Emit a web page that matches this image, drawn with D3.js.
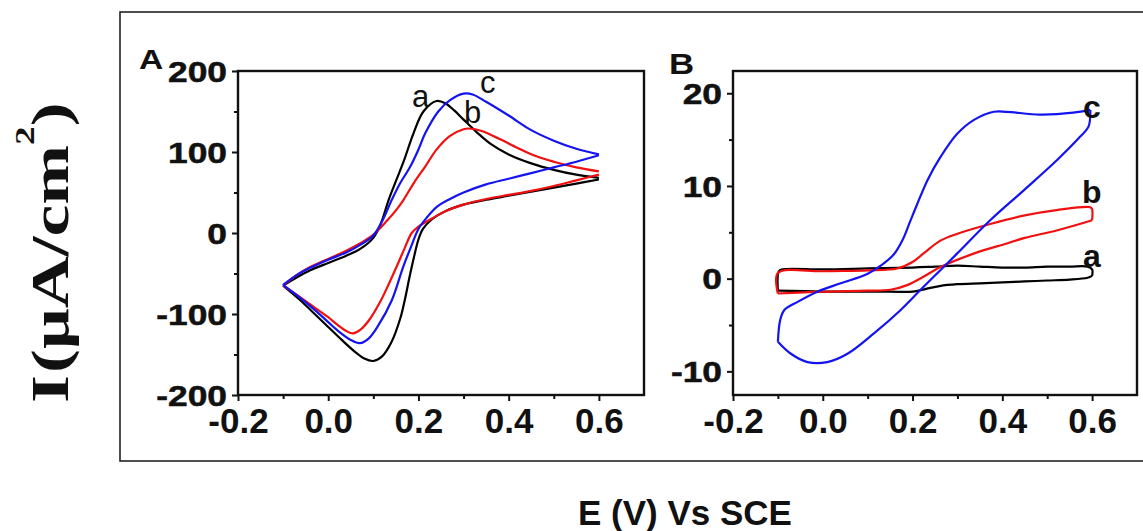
<!DOCTYPE html>
<html>
<head>
<meta charset="utf-8">
<script src="https://cdn.jsdelivr.net/npm/d3@7"></script>
<style>
  html, body { margin: 0; padding: 0; background: #fff; }
  svg { display: block; }
</style>
</head>
<body>
<svg id="fig" width="1143" height="531"></svg>
<script>
// ---- Cyclic voltammograms: [E (V vs SCE), I (uA/cm2)] ----
// Panel A, forward (anodic) and reverse (cathodic) sweeps
const A_a_forward = [[-0.1,-65],[-0.07,-55],[-0.04,-46],[0.0,-37],[0.04,-28],[0.07,-20],[0.1,-6],[0.117,12],[0.134,41],[0.15,64],[0.167,88],[0.189,123],[0.211,150],[0.24,163],[0.26,160],[0.28,151],[0.3,140],[0.33,124],[0.36,110],[0.4,97],[0.45,86],[0.5,78],[0.55,72],[0.6,68]];
const A_a_reverse = [[0.6,66],[0.55,61],[0.5,56],[0.45,51],[0.4,46],[0.35,41],[0.3,35],[0.26,27],[0.23,17],[0.21,5],[0.2,-8],[0.19,-30],[0.18,-55],[0.17,-82],[0.16,-105],[0.14,-135],[0.12,-152],[0.1,-158],[0.08,-155],[0.06,-147],[0.03,-132],[0.0,-116],[-0.03,-100],[-0.06,-84],[-0.1,-65]];
const A_b_forward = [[-0.1,-65],[-0.07,-52],[-0.04,-42],[0.0,-32],[0.04,-22],[0.07,-13],[0.1,-2],[0.13,15],[0.15,28],[0.167,41],[0.19,62],[0.215,82],[0.24,103],[0.27,120],[0.3,128],[0.31,129],[0.34,126],[0.38,116],[0.42,105],[0.46,95],[0.5,88],[0.55,81],[0.6,76]];
const A_b_reverse = [[0.6,72],[0.55,65],[0.5,58],[0.45,52],[0.4,47],[0.35,42],[0.3,35],[0.26,27],[0.23,18],[0.2,8],[0.185,0],[0.17,-18],[0.152,-41],[0.135,-62],[0.117,-83],[0.09,-108],[0.07,-120],[0.055,-124],[0.04,-121],[0.02,-113],[0.0,-104],[-0.03,-92],[-0.06,-80],[-0.1,-65]];
const A_c_forward = [[-0.1,-64],[-0.07,-52],[-0.04,-43],[0.0,-33],[0.04,-24],[0.07,-15],[0.1,-3],[0.12,15],[0.141,41],[0.16,62],[0.182,82],[0.2,103],[0.215,123],[0.244,150],[0.27,164],[0.3,172],[0.32,171],[0.35,162],[0.4,145],[0.45,127],[0.5,114],[0.55,104],[0.6,97]];
const A_c_reverse = [[0.6,96],[0.55,88],[0.5,81],[0.45,74],[0.4,67],[0.35,60],[0.3,50],[0.27,42],[0.24,32],[0.22,20],[0.2,5],[0.185,-15],[0.166,-42],[0.141,-83],[0.11,-115],[0.09,-130],[0.07,-136],[0.05,-132],[0.02,-120],[0.0,-110],[-0.03,-95],[-0.06,-81],[-0.1,-64]];

// Panel B
const B_a_forward = [[-0.1,-1.3],[-0.098,0.8],[-0.09,1.0],[0.0,1.0],[0.1,1.1],[0.2,1.2],[0.25,1.3],[0.3,1.4],[0.35,1.3],[0.4,1.2],[0.45,1.2],[0.5,1.3],[0.55,1.3],[0.59,1.3],[0.6,1.0],[0.6,0.3]];
const B_a_reverse = [[0.6,0.3],[0.59,0.1],[0.55,-0.1],[0.5,-0.2],[0.45,-0.3],[0.4,-0.4],[0.35,-0.5],[0.3,-0.6],[0.26,-0.8],[0.23,-1.1],[0.2,-1.4],[0.15,-1.4],[0.1,-1.4],[0.0,-1.4],[-0.1,-1.3]];
const B_b_forward = [[-0.1,-1.6],[-0.1,0.6],[0.0,0.8],[0.1,0.9],[0.166,1.1],[0.2,1.8],[0.224,2.7],[0.262,4.1],[0.3,4.85],[0.373,5.9],[0.447,6.8],[0.521,7.4],[0.596,7.7],[0.6,7.5],[0.6,6.3]];
const B_b_reverse = [[0.6,6.3],[0.58,6.0],[0.521,5.2],[0.45,4.4],[0.41,3.8],[0.336,2.7],[0.262,1.25],[0.224,0.2],[0.188,-0.7],[0.151,-1.2],[0.1,-1.3],[0.0,-1.4],[-0.1,-1.6]];
const B_c_forward = [[-0.1,-6.8],[-0.095,-4.5],[-0.086,-3.4],[-0.056,-2.5],[-0.012,-1.4],[0.04,-0.5],[0.099,0.5],[0.129,1.4],[0.158,2.6],[0.178,4.2],[0.194,6.1],[0.21,8.0],[0.233,10.6],[0.262,13.1],[0.299,15.6],[0.336,17.1],[0.381,18.0],[0.41,18.0],[0.484,17.7],[0.558,17.9],[0.596,18.2]];
const B_c_reverse = [[0.596,18.2],[0.592,16.4],[0.573,15.3],[0.522,12.8],[0.447,9.5],[0.373,6.3],[0.299,2.7],[0.224,-0.9],[0.173,-3.4],[0.114,-5.9],[0.055,-8.1],[0.01,-9.0],[-0.034,-9.0],[-0.071,-8.1],[-0.1,-6.8]];

// Axis ticks
const xMajorTicks = [-0.2, 0.0, 0.2, 0.4, 0.6];
const xMinorTicks = [-0.1, 0.1, 0.3, 0.5];
const yMajorTicksA = [-200, -100, 0, 100, 200];
const yMinorTicksA = [-150, -50, 50, 150];
const yMajorTicksB = [-10, 0, 10, 20];
const yMinorTicksB = [-5, 5, 15];

const seriesColors = { a: "#000000", b: "#f01010", c: "#1414f0" };

const svg = d3.select("#fig");
svg.append("rect").attr("width", 1143).attr("height", 531).attr("fill", "#fff");

// outer frame around both panels
svg.append("rect")
  .attr("x", 120).attr("y", 12).attr("width", 1040).attr("height", 449)
  .attr("fill", "none").attr("stroke", "#222").attr("stroke-width", 1.6);

const SANS = "'Liberation Sans', Arial, sans-serif";

function drawPanel(p) {
  const x = d3.scaleLinear().domain([-0.2, 0.7]).range([p.left, p.right]);
  const y = d3.scaleLinear().domain(p.yDomain).range([p.bottom, p.top]);
  const g = svg.append("g");

  // minor ticks
  const minorX = g.append("g").attr("transform", `translate(0,${p.bottom})`)
    .call(d3.axisBottom(x).tickValues(xMinorTicks).tickSize(4).tickFormat(() => ""));
  const minorY = g.append("g").attr("transform", `translate(${p.left},0)`)
    .call(d3.axisLeft(y).tickValues(p.yMinor).tickSize(4).tickFormat(() => ""));

  // major ticks and labels
  const axX = g.append("g").attr("transform", `translate(0,${p.bottom})`)
    .call(d3.axisBottom(x).tickValues(xMajorTicks).tickSize(6).tickPadding(7)
      .tickFormat(d => d.toFixed(1)));
  const axY = g.append("g").attr("transform", `translate(${p.left},0)`)
    .call(d3.axisLeft(y).tickValues(p.yMajor).tickSize(6)
      .tickFormat(d => String(d)));

  [minorX, minorY, axX, axY].forEach(a => {
    a.select(".domain").remove();
    a.selectAll(".tick line").attr("stroke", "#111").attr("stroke-width", 2);
  });
  axX.selectAll("text")
    .attr("font-family", SANS).attr("font-weight", "bold")
    .attr("font-size", 35).attr("fill", "#111");
  axY.selectAll("text")
    .attr("x", 0).attr("dy", "0.35em")
    .attr("transform", "translate(-11,0) scale(1.22,1)")
    .attr("font-family", SANS).attr("font-weight", "bold")
    .attr("font-size", 29).attr("fill", "#111")
    .attr("stroke", "#111").attr("stroke-width", 0.5);

  // curves
  const line = d3.line()
    .x(d => x(d[0])).y(d => y(d[1]))
    .curve(d3.curveCatmullRom.alpha(0.5));
  p.series.forEach(s => {
    [s.forward, s.reverse].forEach(branch => {
      g.append("path").datum(branch)
        .attr("d", line)
        .attr("fill", "none")
        .attr("stroke", seriesColors[s.key])
        .attr("stroke-width", 2.2)
        .attr("stroke-linejoin", "round");
    });
  });

  // plot frame
  g.append("rect")
    .attr("x", p.left).attr("y", p.top)
    .attr("width", p.right - p.left).attr("height", p.bottom - p.top)
    .attr("fill", "none").attr("stroke", "#111").attr("stroke-width", 2.4);

  // panel letter
  g.append("text")
    .attr("transform", `translate(${p.tag.x},${p.tag.y}) scale(1.2,1)`)
    .attr("font-family", SANS).attr("font-weight", "bold")
    .attr("font-size", p.tag.size).attr("fill", "#111")
    .text(p.tag.text);

  // curve labels
  p.labels.forEach(l => {
    g.append("text")
      .attr("x", l.x).attr("y", l.y)
      .attr("font-family", SANS).attr("font-weight", p.labelWeight)
      .attr("font-size", p.labelSize).attr("fill", "#111")
      .text(l.text);
  });
}

drawPanel({
  left: 238, right: 644, top: 71, bottom: 395,
  yDomain: [-200, 200], yMajor: yMajorTicksA, yMinor: yMinorTicksA,
  series: [
    { key: "a", forward: A_a_forward, reverse: A_a_reverse },
    { key: "b", forward: A_b_forward, reverse: A_b_reverse },
    { key: "c", forward: A_c_forward, reverse: A_c_reverse }
  ],
  tag: { text: "A", x: 139, y: 69, size: 28 },
  labelWeight: "normal", labelSize: 31,
  labels: [
    { text: "a", x: 412, y: 107 },
    { text: "b", x: 464, y: 123 },
    { text: "c", x: 480, y: 93 }
  ]
});

drawPanel({
  left: 733, right: 1137, top: 71, bottom: 395,
  yDomain: [-12.55, 22.4], yMajor: yMajorTicksB, yMinor: yMinorTicksB,
  series: [
    { key: "a", forward: B_a_forward, reverse: B_a_reverse },
    { key: "b", forward: B_b_forward, reverse: B_b_reverse },
    { key: "c", forward: B_c_forward, reverse: B_c_reverse }
  ],
  tag: { text: "B", x: 669, y: 74, size: 29 },
  labelWeight: "bold", labelSize: 32,
  labels: [
    { text: "c", x: 1083, y: 118 },
    { text: "b", x: 1082, y: 203 },
    { text: "a", x: 1083, y: 267 }
  ]
});

// shared axis titles
svg.append("text")
  .attr("x", 685).attr("y", 525)
  .attr("text-anchor", "middle")
  .attr("font-family", SANS).attr("font-weight", "bold")
  .attr("font-size", 35).attr("fill", "#111")
  .text("E (V) Vs SCE");

const yTitle = svg.append("text")
  .attr("transform", "translate(68,403) rotate(-90) scale(1.38,1)")
  .attr("font-family", "'Liberation Serif', 'Times New Roman', serif")
  .attr("font-weight", "bold").attr("font-size", 52).attr("fill", "#111")
  .style("word-spacing", "-0.22em");
yTitle.append("tspan").text("I (μA/cm");
yTitle.append("tspan").attr("dy", -34).attr("font-size", 27).text("2");
yTitle.append("tspan").attr("dy", 34).text(")");
</script>
</body>
</html>
